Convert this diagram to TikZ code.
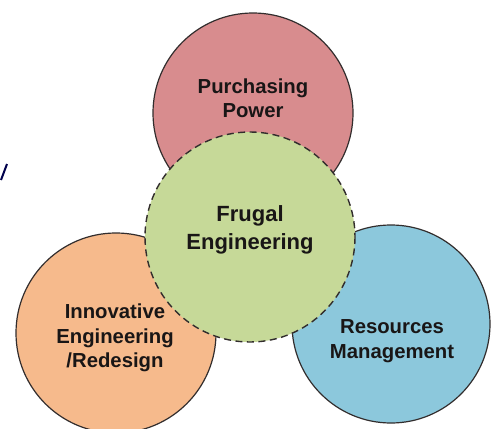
\documentclass[tikz,border=0pt]{standalone}
\usepackage{fontspec}
\setmainfont{Liberation Sans}
\definecolor{redc}{RGB}{216,140,142}
\definecolor{greenc}{RGB}{198,217,152}
\definecolor{orangec}{RGB}{246,186,140}
\definecolor{bluec}{RGB}{140,200,220}
\definecolor{edge}{RGB}{50,45,45}
\definecolor{txt}{RGB}{25,22,22}
\begin{document}
\begin{tikzpicture}[x=1pt,y=-1pt,
  circ/.style={draw=edge,line width=1.2pt,circle},
  lbl/.style={font=\bfseries\fontsize{20.3}{24.5}\selectfont,text=txt,align=center}]
\useasboundingbox[fill=white] (0,0) rectangle (491,429);
\fill[redc,draw=edge,line width=1.2pt] (253,113) circle (100);
\fill[orangec,draw=edge,line width=1.2pt] (116,333) circle (100);
\fill[bluec,draw=edge,line width=1.2pt] (391,324) circle (99);
\fill[greenc,draw=edge,line width=1.4pt,dash pattern=on 7pt off 4.5pt] (250,237) circle (105);
\node[lbl] (pp) at (253,98) {Purchasing\\Power};
\node[lbl,font=\bfseries\fontsize{22}{28}\selectfont] (fe) at (250,230) {Frugal\\Engineering};
\node[lbl] (ie) at (115,338) {Innovative\\Engineering\\/Redesign};
\node[lbl] (rm) at (392,341) {Resources\\Management};
\coordinate (s1) at (7,164);
\coordinate (s2) at (1,180);
\draw[black!70!blue,line width=2pt] (s1) -- (s2);
\end{tikzpicture}
\end{document}
